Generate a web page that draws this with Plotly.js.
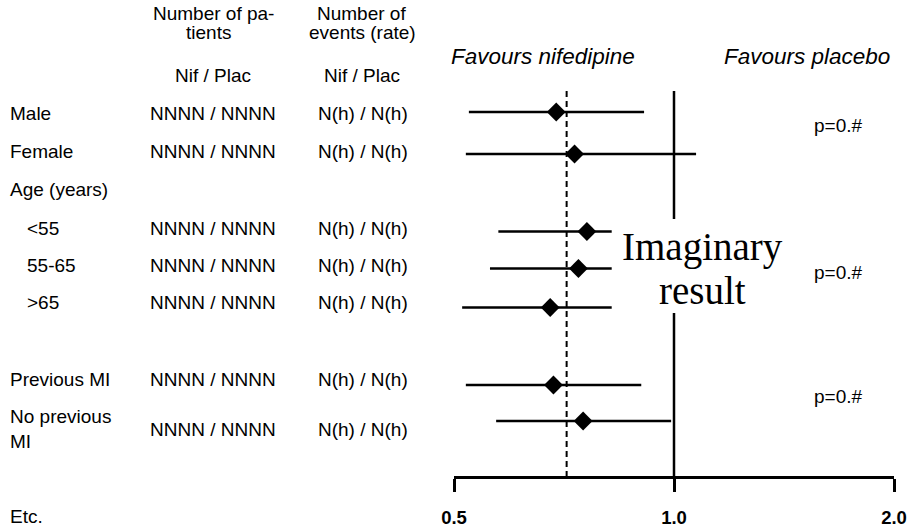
<!DOCTYPE html>
<html>
<head>
<meta charset="utf-8">
<script src="https://cdn.plot.ly/plotly-3.0.1.min.js"></script>
<style>html,body{margin:0;padding:0;background:#fff;}#chart{width:909px;height:530px;}</style>
</head>
<body>
<div id="chart"></div>
<script>
// ---------- data ----------
var categories = ['Male', 'Female', '<55', '55-65', '>65', 'Previous MI', 'No previous MI'];
var categoryLabels = ['Male', 'Female', '<55', '55-65', '>65', 'Previous MI', 'No previous<br>MI'];
var estimate = [0.690, 0.731, 0.760, 0.740, 0.677, 0.684, 0.751];
var ciLow    = [0.524, 0.519, 0.575, 0.560, 0.513, 0.519, 0.571];
var ciHigh   = [0.910, 1.072, 0.880, 0.870, 0.860, 0.902, 0.991];
var patients = ['NNNN / NNNN', 'NNNN / NNNN', 'NNNN / NNNN', 'NNNN / NNNN', 'NNNN / NNNN', 'NNNN / NNNN', 'NNNN / NNNN'];
var events   = ['N(h) / N(h)', 'N(h) / N(h)', 'N(h) / N(h)', 'N(h) / N(h)', 'N(h) / N(h)', 'N(h) / N(h)', 'N(h) / N(h)'];
var pValues  = ['p=0.#', 'p=0.#', 'p=0.#'];
var overallEstimate = [0.713];
var nullValue = [1.0];
var tickValues = [0.5, 1.0, 2.0];
var tickLabels = ['0.5', '1.0', '2.0'];

// ---------- layout helpers (positions in page pixels) ----------
var W = 909, H = 530;
function px(x) { return x / W; }
function py(y) { return 1 - y / H; }
var markY  = [112, 154, 231.5, 268.5, 307.5, 385, 421];   // row centres of the marks
var textY  = [113.5, 151, 228, 265, 302, 379, 429];        // row centres of the texts
var labelX = [8, 8, 25, 25, 25, 8, 8];
var pValueY = [125, 272, 397];
var lineTop = 91, axisY = 477;

var SANS = 'Liberation Sans, Arial, Helvetica, sans-serif';
var SERIF = 'Liberation Serif, Times New Roman, serif';
var bodyFont = {family: SANS, size: 19, color: '#000'};

var annotations = [];
function addText(text, x, y, anchor, font) {
  annotations.push({text: text, xref: 'paper', yref: 'paper', x: px(x), y: py(y),
    xanchor: anchor, yanchor: 'middle', align: anchor, showarrow: false, font: font || bodyFont});
}

// headers
addText('Number of pa-', 213.5, 13.5, 'center');
addText('tients', 208, 33, 'center');
addText('Nif / Plac', 213, 75.5, 'center');
addText('Number of', 361.7, 13.5, 'center');
addText('events (rate)', 362.5, 33, 'center');
addText('Nif / Plac', 361.7, 75.5, 'center');
addText('<i>Favours nifedipine</i>', 542.5, 57, 'center', {family: SANS, size: 22.5, color: '#000'});
addText('<i>Favours placebo</i>', 807, 57, 'center', {family: SANS, size: 22.5, color: '#000'});

// rows
for (var i = 0; i < categories.length; i++) {
  addText(categoryLabels[i], labelX[i], textY[i], 'left');
  addText(patients[i], 213, textY[i], 'center');
  addText(events[i], 362.5, textY[i], 'center');
}
addText('Age (years)', 8, 190, 'left');
addText('Etc.', 8, 516, 'left');
for (var j = 0; j < pValues.length; j++) {
  addText(pValues[j], 812, pValueY[j], 'left');
}
// the overlaid note
addText('Imaginary', 702, 247, 'center', {family: SERIF, size: 39, color: '#000'});
addText('result', 702, 290, 'center', {family: SERIF, size: 39, color: '#000'});

var traces = [
  {type: 'scatter', mode: 'lines', x: [nullValue[0], nullValue[0]], y: [lineTop, axisY],
   line: {color: '#000', width: 2.5}, hoverinfo: 'skip', showlegend: false, cliponaxis: false},
  {type: 'scatter', mode: 'lines', x: [overallEstimate[0], overallEstimate[0]], y: [lineTop, axisY],
   line: {color: '#000', width: 2, dash: '6px,4px'}, hoverinfo: 'skip', showlegend: false, cliponaxis: false},
  {type: 'scatter', mode: 'markers', x: estimate, y: markY, text: categories,
   marker: {symbol: 'diamond', size: 14.5, color: '#000'},
   error_x: {type: 'data', symmetric: false,
     array: estimate.map(function (v, k) { return ciHigh[k] - v; }),
     arrayminus: estimate.map(function (v, k) { return v - ciLow[k]; }),
     color: '#000', thickness: 2.5, width: 0},
   showlegend: false, cliponaxis: false}
];

var layout = {
  width: W, height: H,
  margin: {l: 0, r: 0, t: 0, b: 0, pad: 0},
  paper_bgcolor: '#fff', plot_bgcolor: 'rgba(0,0,0,0)',
  showlegend: false,
  xaxis: {type: 'log', domain: [px(454), px(894)],
    range: [Math.log10(0.5), Math.log10(2)],
    anchor: 'free', position: py(axisY),
    tickvals: tickValues, ticktext: tickLabels,
    tickfont: {family: SANS, size: 18.5, color: '#000', weight: 'bold'},
    ticks: 'outside', ticklen: 13, tickwidth: 3, tickcolor: '#000',
    ticklabelposition: 'outside', ticklabelstandoff: 10,
    showline: true, linecolor: '#000', linewidth: 2.5,
    showgrid: false, zeroline: false, fixedrange: true},
  yaxis: {domain: [0, 1], range: [H, 0], visible: false, showgrid: false, zeroline: false, fixedrange: true},
  shapes: [
    {type: 'rect', xref: 'paper', yref: 'paper', x0: px(611.7), x1: px(792), y0: py(313), y1: py(219),
     fillcolor: '#fff', line: {width: 0}, layer: 'above'}
  ],
  annotations: annotations
};

Plotly.newPlot('chart', traces, layout, {displayModeBar: false, staticPlot: true});
</script>
</body>
</html>
